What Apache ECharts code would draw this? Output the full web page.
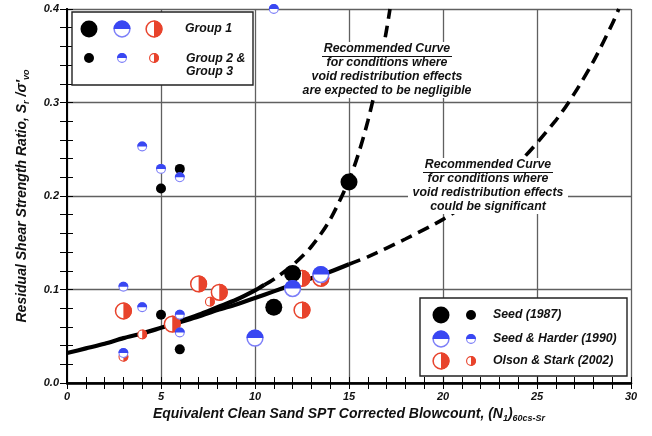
<!DOCTYPE html>
<html>
<head>
<meta charset="utf-8">
<script src="https://cdn.jsdelivr.net/npm/echarts@6/dist/echarts.min.js"></script>
<style>
  html, body { margin: 0; padding: 0; background: #fff; }
  #chart { width: 652px; height: 436px; }
</style>
</head>
<body>
<div id="chart"></div>
<script>
// ---- Case histories: [(N1)60cs-Sr, Sr/σ'vo] ----
// Seed (1987)
const seedGroup1 = [[15, 0.215], [12, 0.117], [11, 0.081]];
const seedGroup23 = [[5, 0.208], [6, 0.229], [5, 0.073], [6, 0.036]];
// Seed & Harder (1990)
const harderGroup1 = [[10, 0.048], [12, 0.101], [13.5, 0.116]];
const harderGroup23 = [[11, 0.4], [4, 0.253], [5, 0.229], [6, 0.22], [3, 0.103], [4, 0.081], [6, 0.073], [6, 0.054], [3, 0.032]];
// Olson & Stark (2002)
const olsonGroup1 = [[3, 0.077], [7, 0.106], [8.1, 0.097], [5.6, 0.063], [12.5, 0.078], [12.5, 0.112], [13.5, 0.112]];
const olsonGroup23 = [[4, 0.052], [3, 0.028], [7.6, 0.087]];

// ---- Recommended curves ----
// void redistribution could be significant (lower curve)
const lowerSolid = [[0, 0.032], [1, 0.037], [2, 0.042], [3, 0.048], [4, 0.053], [5, 0.059], [6, 0.065], [7, 0.071],
  [8, 0.078], [9, 0.084], [10, 0.091], [11, 0.098], [12, 0.105], [13, 0.112], [14, 0.119], [15, 0.127]];
const lowerDashed = [[15, 0.127], [16, 0.135], [18, 0.154], [20, 0.175], [22, 0.202], [24, 0.235], [26, 0.281],
  [27, 0.31], [28, 0.344], [29, 0.384], [29.35, 0.4]];
// void redistribution negligible (upper curve)
const upperSolid = [[6, 0.066], [7, 0.073], [8, 0.081], [9, 0.089], [10, 0.099], [10.5, 0.105]];
const upperDashed = [[10.5, 0.105], [11, 0.111], [12, 0.126], [13, 0.146], [14, 0.175], [15, 0.217], [15.5, 0.245],
  [16, 0.28], [16.5, 0.323], [17, 0.378], [17.18, 0.4]];

// ---- Axis ticks ----
const xTicks = [0, 5, 10, 15, 20, 25, 30];
const yTicks = [0.0, 0.1, 0.2, 0.3, 0.4];

const BLACK = '#000000';
const BLUE = '#3947f2';
const BLUE_EDGE = '#7c7ef8';
const RED = '#e8432c';
const R_BIG = 8.5;
const R_SMALL = 5;
const FONT = 'Arial, "Liberation Sans", sans-serif';

// Marker shapes: solid disc, top-half filled, right-half filled
function markerShapes(kind, cx, cy, r, extra) {
  const ex = extra || {};
  if (kind === 'solid') {
    return [Object.assign({ type: 'circle', shape: { cx, cy, r }, style: { fill: BLACK } }, ex)];
  }
  const top = kind === 'top';
  const fill = top ? BLUE : RED;
  const edge = top ? BLUE_EDGE : RED;
  const a0 = top ? Math.PI : -Math.PI / 2;
  const a1 = top ? 2 * Math.PI : Math.PI / 2;
  return [
    Object.assign({ type: 'circle', shape: { cx, cy, r: r - 0.6 }, style: { fill: '#fff', stroke: edge, lineWidth: r > 6 ? 1.5 : 1.1 } }, ex),
    Object.assign({ type: 'sector', shape: { cx, cy, r0: 0, r: r, startAngle: a0, endAngle: a1, clockwise: true }, style: { fill } }, ex)
  ];
}

function markerSeries(name, data, kind, r, z) {
  return {
    name, type: 'custom', coordinateSystem: 'cartesian2d', data, clip: false, z,
    encode: { x: 0, y: 1 },
    renderItem: function (params, api) {
      const p = api.coord([api.value(0), api.value(1)]);
      return { type: 'group', children: markerShapes(kind, p[0], p[1], r) };
    }
  };
}

function curve(data, dashed) {
  return {
    type: 'line', data, smooth: 0.3, showSymbol: false, z: 3, clip: true,
    lineStyle: { color: '#000', width: dashed ? 3.6 : 4.2, type: dashed ? [12, 7] : 'solid', cap: 'butt' }
  };
}

// ---- Overlay graphics: key boxes and curve notes (drawn on an upper layer) ----
const TOP = { zlevel: 1, z: 10 };
const TOP2 = { zlevel: 1, z: 20 };
function legendItems(kind, x, y, r) {
  return markerShapes(kind, x, y, r, TOP2);
}
function label(text, x, y, align) {
  return Object.assign({
    type: 'text', x, y,
    style: { text, font: 'italic bold 12.3px ' + FONT, fill: '#111', align: align || 'left', verticalAlign: 'middle' }
  }, TOP2);
}
function box(x, y, w, h, stroke) {
  return Object.assign({
    type: 'rect', shape: { x, y, width: w, height: h },
    style: stroke ? { fill: '#fff', stroke: '#222', lineWidth: 1.4 } : { fill: '#fff' }
  }, TOP);
}
function note(cx, top, width, lines) {
  const items = [box(cx - width / 2, top, width, 56, false)];
  lines.forEach((t, i) => items.push(label(t, cx, top + 7 + i * 13.8, 'center')));
  items.push(Object.assign({ type: 'line', shape: { x1: cx - 65, y1: top + 14.5, x2: cx + 65, y2: top + 14.5 }, style: { stroke: '#111', lineWidth: 1.2 } }, TOP2));
  return items;
}

const graphics = [].concat(
  // Group key (upper left)
  [box(72, 12, 181, 73, true)],
  legendItems('solid', 89, 29, R_BIG), legendItems('top', 122, 29, R_BIG), legendItems('right', 154, 29, R_BIG),
  legendItems('solid', 89, 58, R_SMALL), legendItems('top', 122, 58, R_SMALL), legendItems('right', 154, 58, R_SMALL),
  [label('Group 1', 185, 29), label('Group 2 &', 186, 59), label('Group 3', 186, 72)],
  // Source key (lower right)
  [box(420, 298, 207, 78, true)],
  legendItems('solid', 441, 315, R_BIG), legendItems('solid', 471, 315, R_SMALL),
  legendItems('top', 441, 339, R_BIG), legendItems('top', 471, 339, R_SMALL),
  legendItems('right', 441, 361, R_BIG), legendItems('right', 471, 361, R_SMALL),
  [label('Seed (1987)', 493, 315), label('Seed & Harder (1990)', 493, 339), label('Olson & Stark (2002)', 493, 361)],
  // Curve notes
  note(387, 42, 176, ['Recommended Curve', 'for conditions where', 'void redistribution effects', 'are expected to be negligible']),
  note(488, 158, 160, ['Recommended Curve', 'for conditions where', 'void redistribution effects', 'could be significant'])
);

const axisText = { fontFamily: FONT, fontWeight: 'bold', fontStyle: 'italic', fontSize: 11, color: '#111' };
const nameRich = {
  t: { fontFamily: FONT, fontWeight: 'bold', fontStyle: 'italic', fontSize: 14, color: '#111', lineHeight: 18, verticalAlign: 'middle' },
  s: { fontFamily: FONT, fontWeight: 'bold', fontStyle: 'italic', fontSize: 9, color: '#111', lineHeight: 10, verticalAlign: 'bottom' }
};

const frameAxis = (w) => ({ show: true, lineStyle: { color: '#000', width: w } });
const innerTick = (len) => ({ show: true, inside: true, length: len, lineStyle: { color: '#000', width: 1 } });
const innerMinor = (len) => ({ show: true, splitNumber: 5, length: len, lineStyle: { color: '#000', width: 1 } });

const option = {
  animation: false,
  backgroundColor: '#fff',
  grid: { left: 67, right: 21, top: 9, bottom: 53 },
  xAxis: [{
    type: 'value', min: xTicks[0], max: xTicks[xTicks.length - 1], interval: 5, position: 'bottom',
    axisLine: frameAxis(2.5), axisTick: innerTick(6), minorTick: innerMinor(6),
    splitLine: { show: true, lineStyle: { color: '#606060', width: 1.3 } },
    axisLabel: Object.assign({ margin: 8, formatter: v => String(v) }, axisText),
    name: '{t|Equivalent Clean Sand SPT Corrected Blowcount, (N}{s|1}{t|)}{s|60cs-Sr}',
    nameLocation: 'middle', nameGap: 22, nameTextStyle: { rich: nameRich }
  }, {
    type: 'value', min: 0, max: 30, interval: 5, position: 'top',
    axisLine: frameAxis(1.6), axisTick: innerTick(6), minorTick: innerMinor(6),
    splitLine: { show: false }, axisLabel: { show: false }
  }],
  yAxis: [{
    type: 'value', min: yTicks[0], max: yTicks[yTicks.length - 1], interval: 0.1, position: 'left',
    axisLine: frameAxis(2), axisTick: innerTick(6), minorTick: innerMinor(6),
    splitLine: { show: true, lineStyle: { color: '#606060', width: 1.3 } },
    axisLabel: Object.assign({ margin: 8, formatter: v => v.toFixed(1) }, axisText),
    name: '{t|Residual Shear Strength Ratio, S}{s|r}{t| /σ\'}{s|vo}',
    nameLocation: 'middle', nameGap: 36, nameRotate: 90, nameTextStyle: { rich: nameRich }
  }, {
    type: 'value', min: 0, max: 0.4, interval: 0.1, position: 'right',
    axisLine: frameAxis(2), axisTick: innerTick(7), minorTick: innerMinor(7),
    splitLine: { show: false }, axisLabel: { show: false }
  }],
  series: [
    curve(lowerSolid, false), curve(lowerDashed, true),
    curve(upperSolid, false), curve(upperDashed, true),
    markerSeries('Olson & Stark (2002) G1', olsonGroup1, 'right', R_BIG, 10),
    markerSeries('Olson & Stark (2002) G2/3', olsonGroup23, 'right', R_SMALL, 10),
    markerSeries('Seed (1987) G1', seedGroup1, 'solid', R_BIG, 11),
    markerSeries('Seed (1987) G2/3', seedGroup23, 'solid', R_SMALL, 11),
    markerSeries('Seed & Harder (1990) G1', harderGroup1, 'top', R_BIG, 12),
    markerSeries('Seed & Harder (1990) G2/3', harderGroup23, 'top', R_SMALL, 12)
  ],
  graphic: { elements: graphics }
};

const chart = echarts.init(document.getElementById('chart'), null, { renderer: 'canvas' });
chart.setOption(option);
</script>
</body>
</html>
